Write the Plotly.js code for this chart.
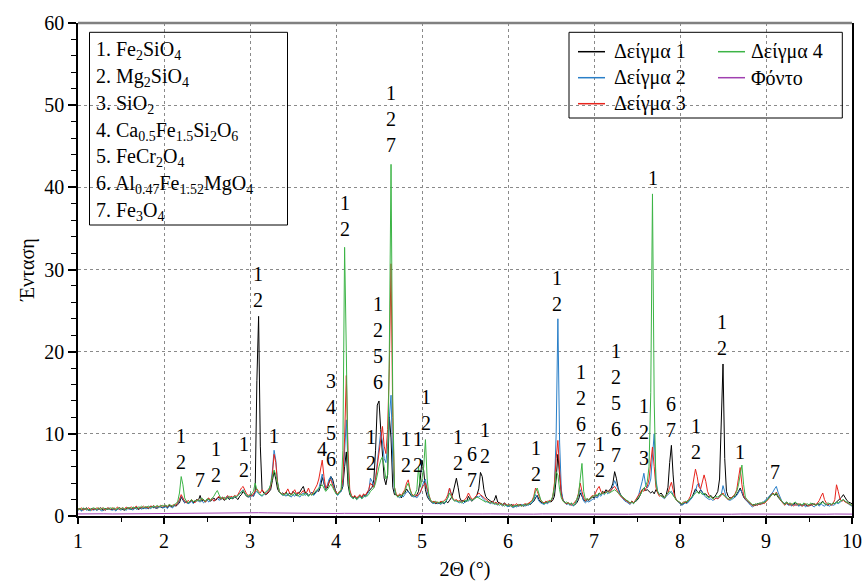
<!DOCTYPE html>
<html>
<head>
<meta charset="utf-8">
<script src="https://cdn.plot.ly/plotly-3.0.1.min.js"></script>
<style>
html,body{margin:0;padding:0;background:#fff;}
#chart text{font-family:"Liberation Serif",serif !important;}
</style>
</head>
<body>
<div id="chart" style="width:862px;height:581px"></div>
<script>
// ---- DATA ----
const twoThetaStart = 1.0;
const twoThetaStep = 0.02;

const sample1 = [
0.8,0.9,0.7,0.9,0.8,1.0,0.7,0.8,0.9,0.8,
0.9,0.7,0.8,1.0,0.8,0.7,0.9,0.8,1.0,0.8,
0.8,0.9,0.7,0.8,1.0,0.9,0.8,0.7,0.9,1.0,
0.9,0.8,1.0,0.9,1.1,0.8,0.9,1.0,0.9,1.1,
1.0,0.9,1.1,1.2,1.0,1.1,0.9,1.2,1.1,1.0,
1.1,1.2,1.0,1.3,1.2,1.1,1.3,1.2,1.4,1.6,
2.3,2.0,1.6,1.8,1.5,1.7,1.9,1.6,1.8,2.0,
1.9,2.5,1.8,2.0,1.7,1.9,2.1,1.8,2.0,2.2,
1.9,2.1,2.3,2.0,2.2,1.9,2.1,2.3,2.0,2.2,
2.1,2.3,2.2,2.0,2.4,2.6,3.0,2.7,2.4,2.3,
2.5,2.6,2.4,3.0,16.5,24.3,8.5,3.2,2.8,2.6,
2.7,2.9,3.2,4.3,5.4,4.5,3.3,2.9,2.7,2.8,
2.6,2.9,2.5,2.8,2.6,3.0,2.7,2.5,2.8,2.9,
3.3,3.6,2.9,2.8,2.5,2.7,2.9,2.6,2.8,3.1,
3.0,3.6,4.7,4.0,3.2,3.4,4.2,4.8,4.5,3.6,
2.8,2.6,2.9,3.0,3.6,6.0,7.8,3.8,2.6,2.3,
2.2,2.4,2.1,2.3,2.5,2.2,2.6,2.4,2.8,3.0,
3.2,3.5,4.4,8.0,13.5,14.0,10.5,6.8,4.6,3.8,
5.0,12.1,9.5,3.5,2.6,2.6,2.3,2.5,2.2,2.7,
2.8,3.3,3.0,2.6,2.4,2.5,2.3,2.6,3.0,4.5,
6.8,5.5,3.2,2.4,2.0,1.8,1.6,1.7,1.5,1.6,
1.5,1.7,1.6,1.5,1.8,1.6,1.9,2.2,2.8,3.8,
4.6,3.5,2.2,1.8,1.9,1.7,1.8,2.4,2.0,1.8,
2.0,2.2,2.6,3.3,5.3,4.8,3.2,2.4,2.1,1.9,
1.8,1.7,1.9,2.5,1.7,1.6,1.5,1.4,1.6,1.3,
1.3,1.2,1.4,1.3,1.1,1.3,1.2,1.4,1.3,1.2,
1.4,1.3,1.5,1.4,1.6,1.8,2.2,2.5,2.0,1.7,
1.6,1.5,1.7,1.6,1.8,1.7,1.9,2.4,4.5,7.5,
5.0,2.8,1.9,1.7,1.5,1.6,1.4,1.5,1.3,1.4,
1.6,2.0,2.8,2.4,1.9,1.8,2.0,1.9,2.1,2.3,
2.2,2.5,2.4,2.8,2.6,3.0,2.8,3.2,2.9,3.1,
3.4,4.0,5.4,4.6,3.4,2.8,2.4,2.2,2.0,1.8,
1.7,1.6,1.8,1.6,1.7,1.9,2.2,2.6,3.2,3.4,
3.1,3.2,3.0,2.8,3.0,2.7,3.2,2.9,2.6,2.8,
2.5,2.2,2.6,3.5,6.5,8.6,5.0,2.4,1.9,1.7,
1.6,1.4,1.5,1.7,1.6,1.8,2.0,2.3,2.8,3.3,
3.0,2.8,3.2,2.9,2.6,2.7,2.4,2.3,2.5,2.2,
2.3,2.6,3.0,4.5,12.0,18.5,7.0,3.0,2.4,2.2,
2.2,2.4,2.3,2.6,3.0,3.4,2.8,2.3,2.0,1.8,
1.7,1.5,1.3,1.4,1.3,1.5,1.4,1.6,1.5,1.7,
1.8,2.0,2.4,2.6,2.8,2.5,2.7,2.3,2.0,1.8,
1.6,1.5,1.7,1.4,1.5,1.3,1.4,1.6,1.5,1.3,
1.4,1.3,1.5,1.4,1.2,1.4,1.3,1.5,1.4,1.3,
1.5,1.4,1.6,1.8,1.5,1.4,1.3,1.5,1.4,1.6,
1.5,1.7,1.9,2.0,2.3,2.6,2.2,1.9,1.7,1.6,
1.5];

const sample2 = [
0.7,0.8,0.6,0.8,0.9,0.7,0.8,0.6,0.8,0.7,
0.8,0.7,0.9,0.7,0.6,0.8,0.7,0.9,0.8,0.7,
0.7,0.8,0.6,0.9,0.8,0.7,0.9,0.8,0.7,0.9,
0.8,0.9,0.7,1.0,0.8,0.9,1.1,0.8,1.0,0.9,
0.9,1.1,0.9,1.0,1.2,0.9,1.1,1.0,1.2,1.0,
1.0,1.1,0.9,1.2,1.1,1.0,1.2,1.3,1.5,1.9,
2.4,2.1,1.6,1.7,1.5,1.6,1.8,1.5,1.7,1.9,
1.8,1.7,1.9,1.6,1.8,2.0,1.7,1.9,2.1,1.8,
2.0,2.2,1.9,2.1,2.3,2.0,2.2,2.4,2.1,2.3,
2.2,2.4,2.3,2.5,2.8,3.0,3.2,2.8,2.5,2.4,
2.3,2.5,2.4,2.8,3.0,2.7,2.5,2.4,2.6,2.8,
2.9,3.2,3.8,5.5,8.0,6.8,4.2,3.0,2.7,2.5,
2.6,2.4,2.7,2.5,2.3,2.6,2.4,2.7,2.5,2.3,
2.6,2.8,2.5,2.7,2.4,2.6,2.9,2.5,2.7,3.0,
3.3,4.2,5.1,4.0,3.3,3.8,4.5,4.8,4.2,3.4,
2.7,2.5,2.8,3.0,4.0,8.0,11.7,6.0,3.0,2.4,
2.1,2.3,2.0,2.2,2.4,2.1,2.5,2.3,2.6,2.9,
4.6,4.2,3.6,4.5,6.5,8.5,10.2,9.0,7.0,6.5,
8.5,12.0,14.7,6.5,3.0,2.6,2.4,2.2,2.5,2.3,
2.6,2.9,3.0,2.8,2.5,2.3,2.4,2.2,2.5,2.8,
3.5,4.2,4.5,3.0,2.2,1.8,1.6,1.5,1.7,1.5,
1.6,1.4,1.7,1.5,1.8,2.2,3.4,2.6,2.0,1.9,
1.8,1.7,1.6,1.8,1.5,1.7,1.9,1.8,2.1,1.9,
2.0,2.2,2.4,2.3,2.5,2.2,2.0,1.8,1.7,1.6,
1.5,1.7,1.4,1.6,1.3,1.5,1.4,1.2,1.4,1.3,
1.1,1.3,1.2,1.0,1.2,1.1,1.3,1.2,1.4,1.3,
1.2,1.4,1.3,1.5,1.6,2.0,2.6,2.3,1.8,1.6,
1.5,1.4,1.6,1.5,1.7,1.8,2.2,3.5,10.0,24.0,
9.0,3.2,1.9,1.6,1.4,1.5,1.3,1.4,1.2,1.5,
1.8,2.6,3.2,2.5,1.8,1.6,1.8,1.7,1.9,2.0,
2.1,2.3,2.2,2.6,2.4,2.8,2.6,3.0,2.7,2.9,
3.1,3.6,4.3,3.8,3.2,2.7,2.3,2.0,1.8,1.7,
1.6,1.4,1.7,1.5,1.8,2.1,2.6,3.3,4.2,5.2,
3.8,3.4,3.8,4.5,8.0,10.0,4.5,3.0,2.6,2.4,
2.3,2.1,2.4,2.6,2.8,3.0,2.6,2.2,1.9,1.7,
1.5,1.3,1.4,1.6,1.5,1.7,1.9,2.2,2.6,3.0,
3.8,4.0,3.2,2.8,2.5,2.3,2.2,2.0,2.1,1.9,
2.0,2.2,2.1,2.4,2.6,3.7,2.8,2.2,2.0,1.9,
2.0,2.1,2.3,2.5,2.8,3.2,2.9,2.4,2.0,1.8,
1.5,1.3,1.1,1.2,1.4,1.3,1.5,1.4,1.6,1.8,
1.9,2.1,2.4,2.7,2.9,3.3,3.6,2.9,2.3,1.9,
1.6,1.4,1.5,1.3,1.4,1.2,1.5,1.3,1.4,1.2,
1.3,1.2,1.4,1.1,1.3,1.2,1.4,1.3,1.1,1.3,
1.4,1.2,1.5,1.3,1.2,1.4,1.3,1.2,1.4,1.3,
1.4,1.6,1.5,1.7,1.9,2.0,1.8,1.6,1.5,1.3,
1.2];

const sample3 = [
0.9,0.8,1.0,0.7,0.9,0.8,1.0,0.9,0.7,0.9,
0.8,1.0,0.9,0.8,1.0,0.9,0.7,1.0,0.9,0.8,
1.0,0.8,0.9,1.1,0.8,0.9,1.0,0.8,1.1,0.9,
1.0,1.1,0.9,1.0,1.2,0.9,1.1,1.0,1.2,1.0,
1.1,1.0,1.2,1.1,1.3,1.0,1.2,1.1,1.3,1.2,
1.2,1.3,1.1,1.4,1.2,1.3,1.4,1.3,1.6,2.0,
2.6,2.2,1.8,1.6,1.9,1.7,2.0,1.8,1.6,1.9,
2.0,1.8,2.1,1.9,1.7,2.0,2.2,1.9,2.1,1.8,
2.0,2.2,2.4,2.1,2.3,2.0,2.2,2.5,2.2,2.4,
2.3,2.5,2.4,2.6,3.0,3.4,3.6,3.1,2.7,2.5,
2.6,2.4,2.7,3.0,3.3,3.0,2.8,3.2,2.9,2.7,
2.8,3.1,3.6,5.0,7.5,6.5,4.0,3.0,2.8,2.6,
2.7,2.9,3.3,2.8,2.6,2.9,3.2,2.7,2.9,2.6,
2.8,3.1,2.7,2.9,3.4,2.8,2.6,3.0,3.3,3.8,
4.5,5.8,6.8,4.8,3.4,3.6,4.2,4.4,3.8,3.2,
2.9,2.7,3.0,3.2,4.5,9.5,17.1,8.0,3.2,2.5,
2.3,2.5,2.2,2.4,2.6,2.3,2.7,2.5,2.9,3.2,
4.0,3.8,3.5,4.5,6.0,7.8,9.5,10.9,8.5,7.6,
10.5,18.0,30.7,12.0,3.5,2.7,2.4,2.7,2.5,2.8,
3.2,4.0,4.4,3.3,2.7,2.5,2.6,2.4,2.6,2.9,
3.4,3.8,4.0,3.2,2.4,1.9,1.7,1.8,1.6,1.7,
1.6,1.8,1.7,1.9,2.1,2.6,3.4,2.7,2.1,1.9,
2.0,1.8,1.9,1.7,1.8,2.0,2.3,2.8,2.4,2.0,
2.1,2.3,2.5,2.8,2.6,2.4,2.2,2.0,1.8,1.7,
1.6,1.8,1.5,1.7,1.4,1.6,1.5,1.3,1.5,1.4,
1.3,1.4,1.2,1.4,1.3,1.5,1.3,1.4,1.2,1.4,
1.5,1.4,1.6,1.7,1.9,2.4,3.4,3.0,2.3,1.9,
1.7,1.6,1.8,1.7,1.9,1.8,2.3,4.0,7.0,9.2,
5.5,2.6,1.8,1.7,1.5,1.6,1.4,1.3,1.5,1.7,
2.0,2.8,4.0,3.0,2.2,1.9,2.1,2.0,2.2,2.5,
2.4,2.9,3.3,3.6,3.0,2.7,3.0,2.8,3.1,2.9,
3.2,3.4,3.6,3.3,2.9,2.5,2.3,2.1,1.9,1.8,
1.7,1.5,1.8,1.6,1.9,2.2,2.5,2.8,3.2,3.0,
3.3,3.6,4.5,6.5,8.4,6.0,3.5,2.8,2.4,2.5,
2.4,2.2,2.5,2.8,3.5,4.1,3.2,2.3,1.9,1.8,
1.6,1.5,1.7,1.6,1.8,2.0,2.4,3.2,4.5,5.7,
4.8,3.5,3.3,4.0,5.0,4.2,3.0,2.5,2.3,2.1,
2.0,2.2,2.1,2.3,2.5,2.8,2.4,2.2,2.0,2.1,
2.2,2.4,2.7,3.2,4.6,5.9,3.8,2.5,2.1,1.9,
1.7,1.4,1.3,1.2,1.4,1.3,1.5,1.4,1.6,1.5,
1.7,1.9,2.2,2.5,2.8,2.6,2.9,2.5,2.1,1.8,
1.5,1.3,1.6,1.4,1.3,1.5,1.2,1.4,1.3,1.5,
1.4,1.2,1.3,1.5,1.3,1.2,1.4,1.3,1.5,1.4,
1.6,1.9,2.4,2.8,2.0,1.6,1.4,1.5,1.3,1.5,
2.0,3.8,3.0,2.1,1.8,1.9,1.7,1.6,1.5,1.4,
1.3];

const sample4 = [
0.8,0.9,0.8,1.0,0.8,0.9,0.8,0.7,0.9,1.0,
0.9,0.8,1.0,0.8,0.9,1.0,0.8,0.9,0.8,1.0,
0.9,1.0,0.8,0.9,1.0,0.8,1.0,0.9,0.8,1.0,
1.0,0.9,1.1,1.0,0.9,1.1,1.0,1.2,1.0,1.1,
1.1,1.2,1.0,1.1,1.2,1.1,1.3,1.1,1.2,1.3,
1.2,1.3,1.2,1.4,1.3,1.2,1.4,1.5,1.8,2.8,
4.8,3.8,2.2,1.8,1.6,1.8,2.0,1.7,1.9,1.8,
2.0,1.8,2.2,1.9,1.8,2.1,2.0,1.9,2.2,2.4,
2.8,3.1,2.6,2.2,2.1,2.3,2.0,2.2,2.4,2.1,
2.2,2.4,2.3,2.5,2.7,2.9,3.1,2.8,2.5,2.4,
2.5,2.7,3.0,4.0,3.2,2.8,2.6,2.5,2.7,2.9,
3.0,3.3,3.8,4.8,5.6,5.0,3.8,3.0,2.7,2.6,
2.5,2.8,2.6,2.4,2.7,2.5,2.8,2.6,2.4,2.7,
2.6,2.5,2.8,2.6,2.4,2.7,2.5,2.8,3.0,3.2,
3.4,3.6,3.8,3.4,3.0,3.2,3.6,3.9,3.5,3.0,
2.7,2.6,2.9,3.2,8.0,32.7,20.0,5.0,2.8,2.3,
2.1,2.3,2.0,2.2,2.4,2.1,2.3,2.5,2.4,2.6,
3.0,3.2,3.4,4.0,5.2,6.0,6.8,7.2,6.0,4.5,
5.0,20.0,42.8,14.0,3.5,2.5,2.3,2.6,2.4,2.7,
3.0,3.6,4.0,3.2,2.6,2.4,2.7,3.2,6.0,3.5,
4.5,6.0,9.3,4.5,2.5,1.9,1.7,1.6,1.8,1.6,
1.7,1.5,1.8,1.6,1.9,2.2,2.8,2.4,2.0,1.8,
1.9,1.7,1.8,1.6,1.7,1.9,1.8,2.0,2.1,1.9,
2.0,2.1,2.3,2.2,2.1,2.0,1.9,1.7,1.8,1.6,
1.7,1.5,1.6,1.4,1.5,1.3,1.5,1.4,1.2,1.4,
1.2,1.4,1.3,1.1,1.3,1.2,1.4,1.3,1.2,1.4,
1.3,1.5,1.4,1.6,1.8,2.2,3.0,3.4,2.6,2.0,
1.7,1.5,1.6,1.8,1.7,1.9,2.4,3.5,5.4,5.0,
3.2,2.2,1.8,1.6,1.7,1.5,1.4,1.6,1.3,1.5,
2.0,2.6,4.5,6.4,3.0,2.0,2.1,2.0,2.2,2.3,
2.4,2.6,2.5,2.8,2.6,2.9,2.7,2.8,3.0,2.8,
2.9,3.0,3.2,3.0,2.8,2.6,2.4,2.2,2.0,1.9,
1.8,1.6,1.7,1.5,1.8,2.0,2.3,2.6,3.0,3.4,
3.6,4.2,6.0,15.0,39.2,14.0,4.0,3.0,2.6,2.5,
2.4,2.2,2.6,2.8,3.0,2.8,2.5,2.2,1.9,1.8,
1.7,1.5,1.6,1.8,1.7,1.9,2.1,2.4,2.6,2.8,
3.0,2.7,2.9,2.6,2.8,2.5,2.3,2.2,2.4,2.1,
2.2,2.4,2.3,2.5,2.7,2.6,2.4,2.2,2.1,2.0,
2.1,2.3,2.6,3.0,3.8,5.0,6.2,3.8,2.3,2.0,
1.8,1.5,1.4,1.3,1.5,1.4,1.6,1.5,1.7,1.6,
1.8,2.0,2.3,2.5,2.7,2.6,2.8,2.4,2.1,1.9,
1.6,1.4,1.7,1.5,1.6,1.4,1.5,1.7,1.5,1.4,
1.5,1.3,1.6,1.4,1.5,1.3,1.6,1.4,1.5,1.3,
1.4,1.6,1.5,1.7,1.5,1.4,1.6,1.5,1.4,1.6,
1.5,1.7,1.6,1.8,1.9,2.0,1.8,1.7,1.5,1.4,
1.3];

const backgroundStart = 1.0;
const backgroundStep = 0.1;
const background = [
0.25,0.28,0.24,0.27,0.25,0.26,0.28,0.25,0.27,0.26,
0.28,0.30,0.32,0.30,0.33,0.35,0.38,0.40,0.42,0.45,
0.42,0.40,0.38,0.36,0.35,0.33,0.34,0.32,0.33,0.31,
0.30,0.32,0.31,0.33,0.30,0.29,0.31,0.30,0.28,0.29,
0.27,0.28,0.26,0.27,0.25,0.26,0.24,0.25,0.26,0.24,
0.25,0.24,0.26,0.23,0.25,0.24,0.23,0.25,0.24,0.23,
0.24,0.23,0.25,0.24,0.22,0.24,0.23,0.25,0.24,0.23,
0.22,0.24,0.23,0.22,0.24,0.23,0.22,0.24,0.23,0.22,
0.23,0.22,0.24,0.23,0.22,0.21,0.23,0.22,0.24,0.22,
0.23];

const seriesNames = ['Δείγμα 1','Δείγμα 2','Δείγμα 3','Δείγμα 4','Φόντο'];
const seriesColors = ['#000000','#2a7fc8','#e8241c','#3cb446','#a040b0'];

const phaseList = [
  '1. Fe<sub>2</sub>SiO<sub>4</sub>',
  '2. Mg<sub>2</sub>SiO<sub>4</sub>',
  '3. SiO<sub>2</sub>',
  '4. Ca<sub>0.5</sub>Fe<sub>1.5</sub>Si<sub>2</sub>O<sub>6</sub>',
  '5. FeCr<sub>2</sub>O<sub>4</sub>',
  '6. Al<sub>0.47</sub>Fe<sub>1.52</sub>MgO<sub>4</sub>',
  '7. Fe<sub>3</sub>O<sub>4</sub>'
];

// peak labels: 2θ position, intensity of label centre, phases
const peakLabelX = [2.202,2.423,2.609,2.93,3.093,3.276,3.84,3.944,4.109,4.403,4.488,4.644,4.819,4.95,5.043,5.419,5.581,5.737,6.33,6.574,6.845,7.074,7.252,7.578,7.686,7.90,8.183,8.493,8.702,9.109];
const peakLabelY = [8.13,4.38,6.55,7.19,27.83,9.74,8.16,11.69,36.46,8.04,21.08,48.29,7.83,7.83,12.87,8.0,6.0,8.93,6.72,27.44,12.74,7.23,13.73,10.27,41.13,12.1,9.34,21.99,7.83,5.4];
const peakLabelPhases = [
  ['1','2'],['7'],['1','2'],['1','2'],['1','2'],['1'],['4'],['3','4','5','6'],['1','2'],['1','2'],
  ['1','2','5','6'],['1','2','7'],['1','2'],['1','2'],['1','2'],['1','2'],['6','7'],['1','2'],['1','2'],['1','2'],
  ['1','2','6','7'],['1','2'],['1','2','5','6','7'],['1','2','3'],['1'],['6','7'],['1','2'],['1','2'],['1'],['7']
];

// ---- BUILD ----
const FONT = 'Liberation Serif';
function grid(start, step, n){ const a=[]; for(let i=0;i<n;i++) a.push(+(start+step*i).toFixed(4)); return a; }
const xs = grid(twoThetaStart, twoThetaStep, sample1.length);
const xb = grid(backgroundStart, backgroundStep, background.length);

const ySeries = [sample1, sample2, sample3, sample4];
const traces = ySeries.map((y,i)=>({
  type:'scatter', mode:'lines', x: xs, y: y, name: seriesNames[i],
  line:{color: seriesColors[i], width:1}, showlegend:false, hoverinfo:'skip'
}));
traces.push({type:'scatter', mode:'lines', x: xb, y: background, name: seriesNames[4],
  line:{color: seriesColors[4], width:1}, showlegend:false, hoverinfo:'skip'});

// plot area in pixels: left 78, top 23, width 774, height 493
const PL=78, PT=23, PW=774, PH=493;
const px = v => (v-PL)/PW;
const py = v => (PT+PH-v)/PH;

const annotations = [];
peakLabelX.forEach((x,i)=>{
  annotations.push({x:x, y:peakLabelY[i], xref:'x', yref:'y', text: peakLabelPhases[i].join('<br>'),
    showarrow:false, xanchor:'center', yanchor:'middle', font:{family:FONT, size:20, color:'#000'}});
});
// phase list box
const phaseRowY = [50.3,77.2,104.1,131.0,157.9,184.8,211.7];
phaseList.forEach((t,i)=>{
  annotations.push({x:px(94), y:py(phaseRowY[i]), xref:'paper', yref:'paper', text:t, showarrow:false,
    xanchor:'left', yanchor:'middle', align:'left', font:{family:FONT, size:20, color:'#000'}});
});
// sample legend
const legendPos = [[578,614,51.7],[578,614,77.7],[578,614,103.7],[718,751,51.7],[718,751,77.7]];
const legendOrder = [0,1,2,3,4];
const shapes = [];
legendOrder.forEach((k,i)=>{
  const p = legendPos[i];
  shapes.push({type:'line', xref:'paper', yref:'paper', x0:px(p[0]), x1:px(p[0]+27), y0:py(p[2]), y1:py(p[2]),
    line:{color:seriesColors[k], width:1.5}});
  annotations.push({x:px(p[1]-2), y:py(p[2]), xref:'paper', yref:'paper', text:seriesNames[k], showarrow:false,
    xanchor:'left', yanchor:'middle', font:{family:FONT, size:20, color:'#000'}});
});
shapes.push({type:'rect', xref:'paper', yref:'paper', x0:px(89.5), x1:px(287.5), y0:py(225), y1:py(32.3),
  line:{color:'#000', width:1}, fillcolor:'rgba(255,255,255,0)', layer:'above'});
shapes.push({type:'rect', xref:'paper', yref:'paper', x0:px(569), x1:px(842.3), y0:py(118), y1:py(32.3),
  line:{color:'#000', width:1}, fillcolor:'rgba(255,255,255,0)', layer:'above'});
shapes.push({type:'line', xref:'paper', yref:'paper', x0:0, x1:1, y0:1, y1:1, line:{color:'#808080', width:2.5}});

const layout = {
  width:862, height:581,
  margin:{l:PL, r:862-PL-PW, t:PT, b:581-PT-PH},
  paper_bgcolor:'#fff', plot_bgcolor:'#fff',
  font:{family:FONT, size:20, color:'#000'},
  showlegend:false,
  xaxis:{
    range:[1,10], tick0:1, dtick:1, ticks:'outside', ticklen:6, tickwidth:1.5, tickcolor:'#000',
    showline:true, linecolor:'#000', linewidth:1.5, zeroline:false,
    showgrid:true, gridcolor:'#8a8a8a', griddash:'dot', gridwidth:1,
    minor:{dtick:0.5, ticks:'outside', ticklen:4, tickwidth:1.2, tickcolor:'#000', showgrid:false},
    tickfont:{family:FONT, size:20, color:'#000'},
    title:{text:'2Θ (°)', font:{family:FONT, size:20, color:'#000'}},
    automargin:false
  },
  yaxis:{
    range:[0,60], tick0:0, dtick:10, ticks:'outside', ticklen:8, tickwidth:1.5, tickcolor:'#000',
    showline:true, linecolor:'#000', linewidth:1.5, mirror:true, zeroline:false,
    showgrid:true, gridcolor:'#8a8a8a', griddash:'dot', gridwidth:1,
    minor:{dtick:2, ticks:'outside', ticklen:5, tickwidth:1.2, tickcolor:'#000', showgrid:false},
    tickfont:{family:FONT, size:20, color:'#000'},
    title:{text:'Ένταση', font:{family:FONT, size:20, color:'#000'}, standoff:4},
    automargin:false
  },
  annotations: annotations,
  shapes: shapes
};

Plotly.newPlot('chart', traces, layout, {displayModeBar:false});
</script>
</body>
</html>
